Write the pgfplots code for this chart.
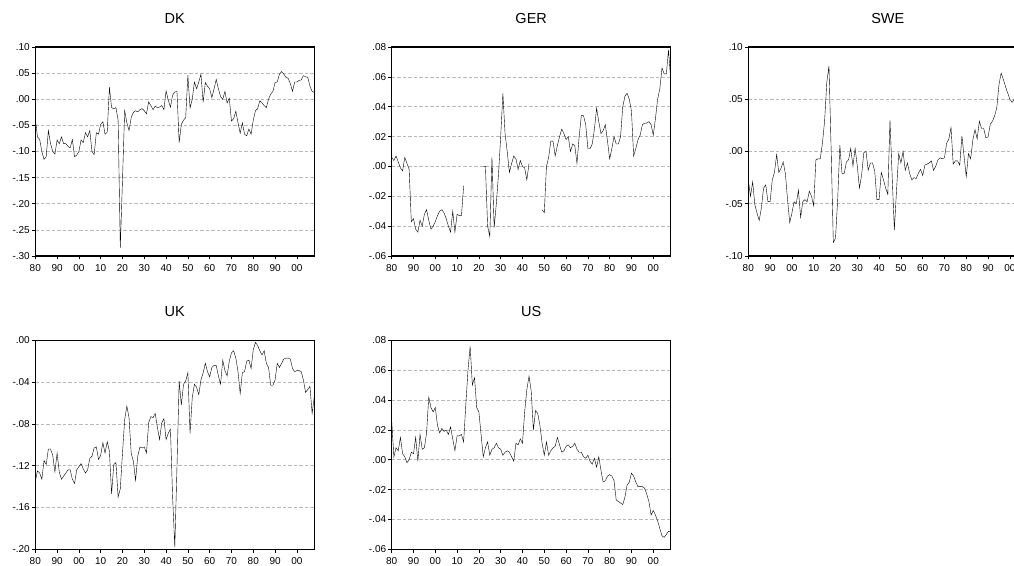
\documentclass[border=0pt]{standalone}
\usepackage{fontspec}
\setmainfont{Liberation Sans}
\usepackage{pgfplots}
\pgfplotsset{compat=1.18}
\pgfplotsset{
  panel/.style={
    scale only axis, width=279pt, height=209pt, anchor=south west,
    xmin=1880, xmax=2008,
    xtick={1880,1890,...,2000},
    xticklabels={80,90,00,10,20,30,40,50,60,70,80,90,00},
    scaled ticks=false,
    tick align=outside, tick pos=left,
    major tick length=3.5pt,
    every tick/.style={black, line width=0.7pt},
    axis line style={line width=1.1pt},
    ymajorgrids=true,
    major grid style={gray!55, line width=0.6pt, dash pattern=on 3.5pt off 2pt},
    tick label style={font=\fontsize{10}{11}\selectfont},
    xticklabel style={yshift=-1pt},
    yticklabel style={xshift=1.5pt},
    title style={anchor=base, at={(0.5,1)}, yshift=17.5pt, font=\fontsize{14.5}{16}\selectfont},
    unbounded coords=jump,
    cycle list={{black, mark=none, line width=1.1pt, line join=round}},
  }
}
\begin{document}
\begin{tikzpicture}
\useasboundingbox (0pt,0pt) rectangle (1014pt,565pt);
\clip (0pt,0pt) rectangle (1014pt,565pt);
% DK
\begin{axis}[panel, at={(35.3pt,309pt)}, title={DK},
  ymin=-0.30, ymax=0.10, ytick={-0.30,-0.25,-0.20,-0.15,-0.10,-0.05,0,0.05,0.10},
  yticklabels={-.30,-.25,-.20,-.15,-.10,-.05,.00,.05,.10}]
\addplot table[row sep=\\]{x y\\
1880 -0.037\\ 1881 -0.072\\ 1882 -0.077\\ 1883 -0.100\\ 1884 -0.115\\ 1885 -0.110\\ 1886 -0.060\\ 1887 -0.085\\ 1888 -0.100\\ 1889 -0.105\\
1890 -0.078\\ 1891 -0.085\\ 1892 -0.072\\ 1893 -0.085\\ 1894 -0.085\\ 1895 -0.090\\ 1896 -0.093\\ 1897 -0.077\\ 1898 -0.110\\ 1899 -0.107\\
1900 -0.100\\ 1901 -0.078\\ 1902 -0.083\\ 1903 -0.064\\ 1904 -0.072\\ 1905 -0.060\\ 1906 -0.100\\ 1907 -0.106\\ 1908 -0.064\\ 1909 -0.067\\
1910 -0.048\\ 1911 -0.043\\ 1912 -0.067\\ 1913 -0.063\\ 1914 0.023\\ 1915 -0.016\\ 1916 -0.018\\ 1917 -0.016\\ 1918 -0.040\\ 1919 -0.284\\
1920 -0.155\\ 1921 -0.022\\ 1922 -0.045\\ 1923 -0.060\\ 1924 -0.035\\ 1925 -0.025\\ 1926 -0.022\\ 1927 -0.024\\ 1928 -0.020\\ 1929 -0.018\\
1930 -0.022\\ 1931 -0.028\\ 1932 -0.005\\ 1933 -0.012\\ 1934 -0.020\\ 1935 -0.013\\ 1936 -0.016\\ 1937 -0.015\\ 1938 -0.012\\ 1939 -0.020\\
1940 0.016\\ 1941 -0.002\\ 1942 -0.015\\ 1943 0.008\\ 1944 0.014\\ 1945 0.015\\ 1946 -0.083\\ 1947 -0.048\\ 1948 -0.040\\ 1949 -0.035\\
1950 0.046\\ 1951 -0.017\\ 1952 0.000\\ 1953 0.033\\ 1954 0.020\\ 1955 0.033\\ 1956 0.048\\ 1957 -0.006\\ 1958 0.032\\ 1959 0.025\\
1960 0.020\\ 1961 0.003\\ 1962 0.020\\ 1963 0.038\\ 1964 0.020\\ 1965 0.005\\ 1966 0.000\\ 1967 0.015\\ 1968 -0.007\\ 1969 0.002\\
1970 -0.042\\ 1971 -0.037\\ 1972 -0.023\\ 1973 -0.045\\ 1974 -0.065\\ 1975 -0.045\\ 1976 -0.067\\ 1977 -0.070\\ 1978 -0.057\\ 1979 -0.067\\
1980 -0.040\\ 1981 -0.022\\ 1982 -0.018\\ 1983 -0.003\\ 1984 -0.007\\ 1985 -0.012\\ 1986 -0.016\\ 1987 0.000\\ 1988 0.010\\ 1989 0.015\\
1990 0.032\\ 1991 0.033\\ 1992 0.048\\ 1993 0.053\\ 1994 0.048\\ 1995 0.042\\ 1996 0.040\\ 1997 0.030\\ 1998 0.015\\ 1999 0.033\\
2000 0.033\\ 2001 0.036\\ 2002 0.037\\ 2003 0.045\\ 2004 0.043\\ 2005 0.042\\ 2006 0.025\\ 2007 0.015\\ 2008 0.013\\
};
\end{axis}
% GER
\begin{axis}[panel, at={(391.7pt,309pt)}, title={GER},
  ymin=-0.06, ymax=0.08, ytick={-0.06,-0.04,-0.02,0,0.02,0.04,0.06,0.08},
  yticklabels={-.06,-.04,-.02,.00,.02,.04,.06,.08}]
\addplot table[row sep=\\]{x y\\
1880 0.006\\ 1881 0.004\\ 1882 0.007\\ 1883 0.003\\ 1884 -0.001\\ 1885 -0.003\\ 1886 0.006\\ 1887 0.002\\ 1888 -0.002\\ 1889 -0.037\\
1890 -0.035\\ 1891 -0.042\\ 1892 -0.044\\ 1893 -0.036\\ 1894 -0.040\\ 1895 -0.032\\ 1896 -0.029\\ 1897 -0.036\\ 1898 -0.042\\ 1899 -0.040\\
1900 -0.037\\ 1901 -0.033\\ 1902 -0.030\\ 1903 -0.029\\ 1904 -0.031\\ 1905 -0.035\\ 1906 -0.040\\ 1907 -0.044\\ 1908 -0.030\\ 1909 -0.044\\
1910 -0.032\\ 1911 -0.033\\ 1912 -0.033\\ 1913 -0.013\\ 1914 nan\\ 1921 nan\\
1922 0.000\\ 1923 0.000\\ 1924 -0.040\\ 1925 -0.047\\ 1926 0.006\\ 1927 -0.041\\ 1928 -0.025\\ 1929 -0.005\\
1930 0.020\\ 1931 0.049\\ 1932 0.022\\ 1933 0.010\\ 1934 -0.004\\ 1935 0.002\\ 1936 0.007\\ 1937 0.005\\ 1938 -0.002\\ 1939 0.004\\
1940 0.000\\ 1941 -0.001\\ 1942 -0.009\\ 1943 0.002\\ 1944 nan\\ 1948 nan\\ 1949 -0.029\\
1950 -0.031\\ 1951 0.000\\ 1952 0.006\\ 1953 0.017\\ 1954 0.017\\ 1955 0.007\\ 1956 0.014\\ 1957 0.020\\ 1958 0.025\\ 1959 0.022\\
1960 0.018\\ 1961 0.020\\ 1962 0.010\\ 1963 0.015\\ 1964 0.014\\ 1965 0.002\\ 1966 0.020\\ 1967 0.034\\ 1968 0.034\\ 1969 0.028\\
1970 0.012\\ 1971 0.012\\ 1972 0.015\\ 1973 0.025\\ 1974 0.039\\ 1975 0.030\\ 1976 0.022\\ 1977 0.024\\ 1978 0.028\\ 1979 0.017\\
1980 0.005\\ 1981 0.012\\ 1982 0.020\\ 1983 0.015\\ 1984 0.015\\ 1985 0.020\\ 1986 0.040\\ 1987 0.047\\ 1988 0.049\\ 1989 0.045\\
1990 0.037\\ 1991 0.007\\ 1992 0.012\\ 1993 0.018\\ 1994 0.021\\ 1995 0.028\\ 1996 0.029\\ 1997 0.029\\ 1998 0.030\\ 1999 0.028\\
2000 0.021\\ 2001 0.032\\ 2002 0.045\\ 2003 0.052\\ 2004 0.066\\ 2005 0.062\\ 2006 0.062\\ 2007 0.078\\ 2008 0.058\\
};
\end{axis}
% SWE
\begin{axis}[panel, at={(748.3pt,309pt)}, title={SWE},
  ymin=-0.10, ymax=0.10, ytick={-0.10,-0.05,0,0.05,0.10},
  yticklabels={-.10,-.05,.00,.05,.10}]
\addplot table[row sep=\\]{x y\\
1880 -0.027\\ 1881 -0.043\\ 1882 -0.029\\ 1883 -0.051\\ 1884 -0.059\\ 1885 -0.066\\ 1886 -0.054\\ 1887 -0.035\\ 1888 -0.032\\ 1889 -0.048\\
1890 -0.048\\ 1891 -0.027\\ 1892 -0.020\\ 1893 -0.003\\ 1894 -0.020\\ 1895 -0.016\\ 1896 -0.010\\ 1897 -0.021\\ 1898 -0.046\\ 1899 -0.068\\
1900 -0.059\\ 1901 -0.048\\ 1902 -0.050\\ 1903 -0.037\\ 1904 -0.063\\ 1905 -0.048\\ 1906 -0.046\\ 1907 -0.048\\ 1908 -0.038\\ 1909 -0.043\\
1910 -0.052\\ 1911 -0.008\\ 1912 -0.007\\ 1913 -0.007\\ 1914 0.008\\ 1915 0.029\\ 1916 0.066\\ 1917 0.082\\ 1918 0.002\\ 1919 -0.087\\
1920 -0.083\\ 1921 -0.046\\ 1922 0.006\\ 1923 -0.021\\ 1924 -0.021\\ 1925 -0.010\\ 1926 -0.008\\ 1927 0.003\\ 1928 -0.014\\ 1929 0.003\\
1930 -0.014\\ 1931 -0.035\\ 1932 -0.022\\ 1933 -0.001\\ 1934 0.000\\ 1935 -0.018\\ 1936 -0.011\\ 1937 -0.011\\ 1938 -0.019\\ 1939 -0.046\\
1940 -0.046\\ 1941 -0.020\\ 1942 -0.027\\ 1943 -0.035\\ 1944 -0.041\\ 1945 0.030\\ 1946 -0.024\\ 1947 -0.075\\ 1948 -0.037\\ 1949 -0.002\\
1950 -0.011\\ 1951 0.000\\ 1952 -0.018\\ 1953 -0.011\\ 1954 -0.021\\ 1955 -0.027\\ 1956 -0.025\\ 1957 -0.026\\ 1958 -0.021\\ 1959 -0.017\\
1960 -0.023\\ 1961 -0.013\\ 1962 -0.012\\ 1963 -0.011\\ 1964 -0.009\\ 1965 -0.018\\ 1966 -0.014\\ 1967 -0.008\\ 1968 -0.006\\ 1969 -0.007\\
1970 -0.006\\ 1971 0.008\\ 1972 0.012\\ 1973 0.023\\ 1974 -0.012\\ 1975 -0.009\\ 1976 -0.009\\ 1977 -0.013\\ 1978 0.015\\ 1979 -0.005\\
1980 -0.024\\ 1981 -0.002\\ 1982 -0.007\\ 1983 0.011\\ 1984 0.021\\ 1985 0.012\\ 1986 0.029\\ 1987 0.022\\ 1988 0.022\\ 1989 0.013\\
1990 0.014\\ 1991 0.026\\ 1992 0.029\\ 1993 0.034\\ 1994 0.042\\ 1995 0.064\\ 1996 0.075\\ 1997 0.069\\ 1998 0.062\\ 1999 0.056\\
2000 0.050\\ 2001 0.047\\ 2002 0.050\\ 2003 0.052\\ 2004 0.050\\ 2005 0.048\\ 2006 0.045\\ 2007 0.043\\ 2008 0.040\\
};
\end{axis}
% UK
\begin{axis}[panel, at={(35.3pt,15.7pt)}, title={UK},
  ymin=-0.20, ymax=0.00, ytick={-0.20,-0.16,-0.12,-0.08,-0.04,0},
  yticklabels={-.20,-.16,-.12,-.08,-.04,.00}]
\addplot table[row sep=\\]{x y\\
1880 -0.135\\ 1881 -0.125\\ 1882 -0.127\\ 1883 -0.133\\ 1884 -0.115\\ 1885 -0.119\\ 1886 -0.104\\ 1887 -0.104\\ 1888 -0.110\\ 1889 -0.126\\
1890 -0.108\\ 1891 -0.126\\ 1892 -0.133\\ 1893 -0.130\\ 1894 -0.127\\ 1895 -0.124\\ 1896 -0.124\\ 1897 -0.133\\ 1898 -0.137\\ 1899 -0.124\\
1900 -0.121\\ 1901 -0.118\\ 1902 -0.123\\ 1903 -0.127\\ 1904 -0.124\\ 1905 -0.113\\ 1906 -0.111\\ 1907 -0.103\\ 1908 -0.102\\ 1909 -0.114\\
1910 -0.110\\ 1911 -0.098\\ 1912 -0.108\\ 1913 -0.097\\ 1914 -0.106\\ 1915 -0.147\\ 1916 -0.119\\ 1917 -0.117\\ 1918 -0.150\\ 1919 -0.142\\
1920 -0.108\\ 1921 -0.076\\ 1922 -0.063\\ 1923 -0.074\\ 1924 -0.108\\ 1925 -0.116\\ 1926 -0.134\\ 1927 -0.111\\ 1928 -0.102\\ 1929 -0.103\\
1930 -0.102\\ 1931 -0.108\\ 1932 -0.079\\ 1933 -0.073\\ 1934 -0.074\\ 1935 -0.070\\ 1936 -0.083\\ 1937 -0.095\\ 1938 -0.079\\ 1939 -0.075\\
1940 -0.095\\ 1941 -0.089\\ 1942 -0.085\\ 1943 -0.150\\ 1944 -0.198\\ 1945 -0.121\\ 1946 -0.039\\ 1947 -0.062\\ 1948 -0.042\\ 1949 -0.039\\
1950 -0.031\\ 1951 -0.089\\ 1952 -0.055\\ 1953 -0.042\\ 1954 -0.045\\ 1955 -0.052\\ 1956 -0.038\\ 1957 -0.031\\ 1958 -0.022\\ 1959 -0.030\\
1960 -0.035\\ 1961 -0.026\\ 1962 -0.024\\ 1963 -0.024\\ 1964 -0.034\\ 1965 -0.042\\ 1966 -0.019\\ 1967 -0.029\\ 1968 -0.034\\ 1969 -0.020\\
1970 -0.012\\ 1971 -0.010\\ 1972 -0.017\\ 1973 -0.030\\ 1974 -0.051\\ 1975 -0.031\\ 1976 -0.030\\ 1977 -0.020\\ 1978 -0.019\\ 1979 -0.027\\
1980 -0.009\\ 1981 -0.002\\ 1982 -0.005\\ 1983 -0.010\\ 1984 -0.014\\ 1985 -0.010\\ 1986 -0.022\\ 1987 -0.026\\ 1988 -0.043\\ 1989 -0.043\\
1990 -0.038\\ 1991 -0.022\\ 1992 -0.026\\ 1993 -0.022\\ 1994 -0.018\\ 1995 -0.017\\ 1996 -0.017\\ 1997 -0.018\\ 1998 -0.027\\ 1999 -0.030\\
2000 -0.029\\ 2001 -0.029\\ 2002 -0.030\\ 2003 -0.038\\ 2004 -0.050\\ 2005 -0.047\\ 2006 -0.044\\ 2007 -0.070\\ 2008 -0.054\\
};
\end{axis}
% US
\begin{axis}[panel, at={(391.7pt,15.7pt)}, title={US},
  ymin=-0.06, ymax=0.08, ytick={-0.06,-0.04,-0.02,0,0.02,0.04,0.06,0.08},
  yticklabels={-.06,-.04,-.02,.00,.02,.04,.06,.08}]
\addplot table[row sep=\\]{x y\\
1880 0.026\\ 1881 0.002\\ 1882 0.008\\ 1883 0.006\\ 1884 0.015\\ 1885 0.004\\ 1886 0.002\\ 1887 -0.002\\ 1888 0.000\\ 1889 0.005\\
1890 0.004\\ 1891 0.015\\ 1892 -0.001\\ 1893 0.017\\ 1894 0.007\\ 1895 0.008\\ 1896 0.018\\ 1897 0.042\\ 1898 0.035\\ 1899 0.032\\
1900 0.035\\ 1901 0.023\\ 1902 0.018\\ 1903 0.021\\ 1904 0.019\\ 1905 0.020\\ 1906 0.017\\ 1907 0.022\\ 1908 0.014\\ 1909 0.006\\
1910 0.016\\ 1911 0.016\\ 1912 0.017\\ 1913 0.012\\ 1914 0.037\\ 1915 0.060\\ 1916 0.076\\ 1917 0.050\\ 1918 0.055\\ 1919 0.035\\
1920 0.032\\ 1921 0.017\\ 1922 0.002\\ 1923 0.008\\ 1924 0.012\\ 1925 0.003\\ 1926 0.007\\ 1927 0.008\\ 1928 0.011\\ 1929 0.008\\
1930 0.007\\ 1931 0.003\\ 1932 0.005\\ 1933 0.006\\ 1934 0.005\\ 1935 0.002\\ 1936 -0.001\\ 1937 0.011\\ 1938 0.010\\ 1939 0.014\\
1940 0.011\\ 1941 0.032\\ 1942 0.047\\ 1943 0.056\\ 1944 0.046\\ 1945 0.020\\ 1946 0.033\\ 1947 0.031\\ 1948 0.023\\ 1949 0.011\\
1950 0.003\\ 1951 0.012\\ 1952 0.003\\ 1953 0.006\\ 1954 0.008\\ 1955 0.009\\ 1956 0.015\\ 1957 0.010\\ 1958 0.005\\ 1959 0.006\\
1960 0.009\\ 1961 0.010\\ 1962 0.008\\ 1963 0.009\\ 1964 0.011\\ 1965 0.007\\ 1966 0.005\\ 1967 0.005\\ 1968 0.002\\ 1969 0.001\\
1970 0.003\\ 1971 -0.001\\ 1972 -0.003\\ 1973 0.001\\ 1974 -0.005\\ 1975 0.002\\ 1976 -0.007\\ 1977 -0.015\\ 1978 -0.014\\ 1979 -0.011\\
1980 -0.010\\ 1981 -0.011\\ 1982 -0.014\\ 1983 -0.027\\ 1984 -0.028\\ 1985 -0.029\\ 1986 -0.030\\ 1987 -0.025\\ 1988 -0.017\\ 1989 -0.015\\
1990 -0.009\\ 1991 -0.011\\ 1992 -0.015\\ 1993 -0.018\\ 1994 -0.018\\ 1995 -0.018\\ 1996 -0.019\\ 1997 -0.023\\ 1998 -0.028\\ 1999 -0.037\\
2000 -0.034\\ 2001 -0.037\\ 2002 -0.041\\ 2003 -0.046\\ 2004 -0.051\\ 2005 -0.052\\ 2006 -0.050\\ 2007 -0.048\\ 2008 -0.048\\
};
\end{axis}
\end{tikzpicture}
\end{document}
